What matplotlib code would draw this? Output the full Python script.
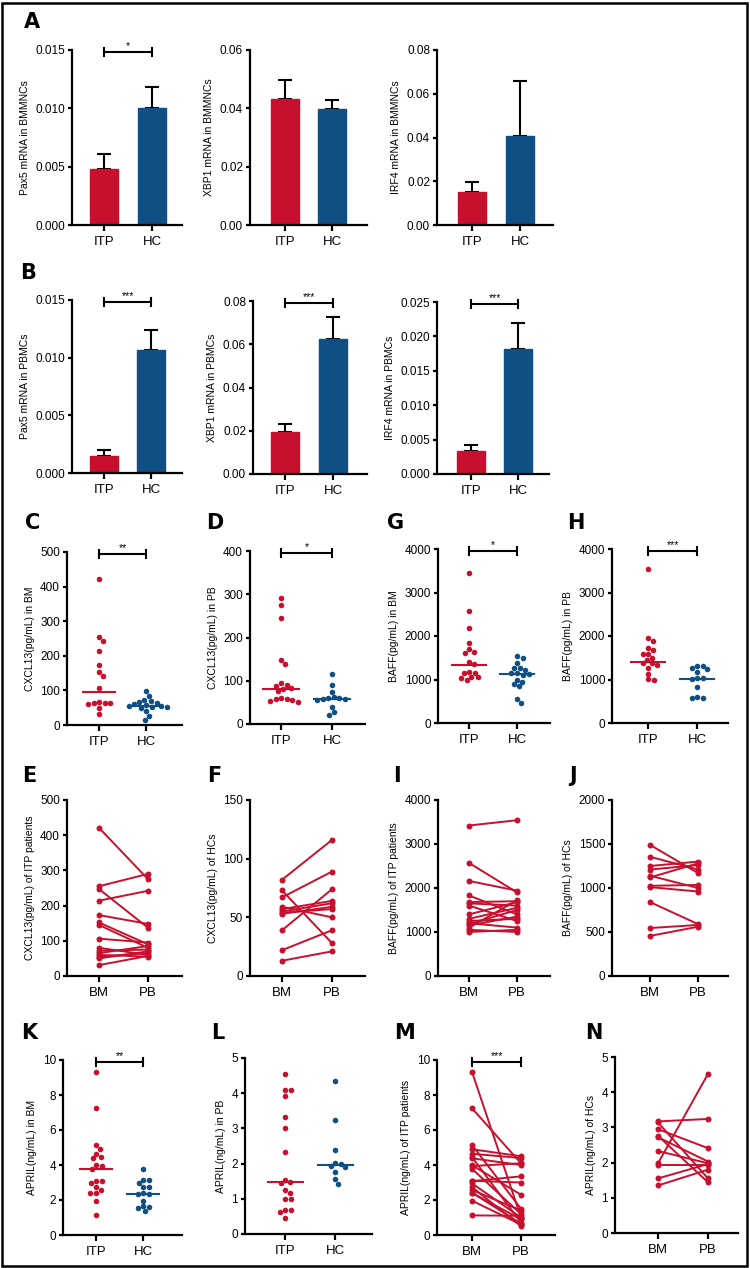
import numpy as np
import matplotlib
matplotlib.use('Agg')
import matplotlib.pyplot as plt
from matplotlib.patches import Rectangle
from matplotlib.ticker import FormatStrFormatter, MultipleLocator

# ==========================================
# Style
# ==========================================
plt.rcParams.update({
    "font.family": ["Liberation Sans", "DejaVu Sans"],
    "axes.linewidth": 1.6,
    "xtick.major.width": 1.6,
    "ytick.major.width": 1.6,
    "xtick.major.size": 4,
    "ytick.major.size": 3,
    "xtick.labelsize": 9.5,
    "ytick.labelsize": 8.5,
    "axes.spines.top": False,
    "axes.spines.right": False,
})
NARROW = ["Liberation Sans Narrow", "Liberation Sans", "DejaVu Sans"]
RED = "#C8102E"
BLUE = "#0F4F83"
W, H = 750, 1268

# ==========================================
# Data
# ==========================================
groups = ["ITP", "HC"]
sites = ["BM", "PB"]

# A / B : mRNA, mean and upper SEM
pax5_bm_mean = [0.0048, 0.0100]
pax5_bm_sem = [0.0013, 0.0018]
xbp1_bm_mean = [0.0431, 0.0397]
xbp1_bm_sem = [0.0066, 0.0032]
irf4_bm_mean = [0.0152, 0.0408]
irf4_bm_sem = [0.0046, 0.0250]
pax5_pb_mean = [0.0015, 0.0107]
pax5_pb_sem = [0.0005, 0.0017]
xbp1_pb_mean = [0.0195, 0.0626]
xbp1_pb_sem = [0.0038, 0.0100]
irf4_pb_mean = [0.0034, 0.0181]
irf4_pb_sem = [0.0008, 0.0038]

# C / D : CXCL13 (pg/mL)
cxcl13_bm_itp = [422, 255, 243, 214, 173, 153, 142, 107, 66, 64, 64, 63, 62, 50, 33]
cxcl13_bm_hc = [97, 83, 73, 69, 66, 64, 60, 57, 55, 54, 53, 52, 50, 40, 26, 14]
cxcl13_bm_med = [94, 56]
cxcl13_pb_itp = [292, 276, 244, 148, 138, 94, 91, 88, 84, 82, 76, 60, 58, 57, 56, 54, 52]
cxcl13_pb_hc = [116, 90, 74, 62, 60, 59, 58, 57, 56, 39, 27, 20]
cxcl13_pb_med = [82, 58]

# G / H : BAFF (pg/mL)
baff_bm_itp = [3441, 2582, 2176, 1847, 1701, 1640, 1617, 1410, 1360, 1180, 1157, 1142,
               1065, 1050, 1040, 989]
baff_bm_hc = [1540, 1500, 1370, 1260, 1255, 1220, 1160, 1140, 1120, 1100, 1000, 950,
              900, 850, 550, 460]
baff_bm_med = [1340, 1120]
baff_pb_itp = [3540, 1947, 1885, 1731, 1678, 1590, 1580, 1500, 1448, 1372, 1370, 1333,
               1257, 1126, 1004, 1000]
baff_pb_hc = [1318, 1310, 1257, 1250, 1180, 1042, 1026, 1004, 835, 607, 583, 568]
baff_pb_med = [1400, 1020]

# E / F / I / J : paired BM vs PB
cxcl13_itp_bm = [421, 255, 247, 214, 173, 152, 145, 106, 80, 72, 65, 60, 55, 50, 31]
cxcl13_itp_pb = [275, 290, 137, 242, 148, 90, 80, 95, 60, 75, 85, 55, 65, 70, 57]
cxcl13_hc_bm = [82, 73, 67, 59, 57, 55, 54, 53, 39, 22, 13]
cxcl13_hc_pb = [116, 28, 89, 50, 64, 62, 57, 59, 74, 39, 21]
baff_itp_bm = [3420, 2570, 2160, 1830, 1680, 1650, 1600, 1400, 1300, 1250, 1200, 1180,
               1150, 1100, 1050, 1000]
baff_itp_pb = [3540, 1900, 1940, 1400, 1700, 1600, 1250, 1680, 1550, 1300, 1100, 1500,
               1350, 1720, 1000, 1050]
baff_hc_bm = [1490, 1355, 1250, 1210, 1140, 1120, 1025, 1010, 840, 545, 455]
baff_hc_pb = [1170, 1210, 1300, 1260, 1000, 1280, 1035, 960, 590, 580, 560]

# K / L : APRIL (ng/mL)
april_bm_itp = [9.32, 7.24, 5.14, 4.90, 4.64, 4.45, 4.38, 3.99, 3.94, 3.78, 3.10, 3.08,
                2.95, 2.74, 2.57, 2.42, 2.40, 1.96, 1.12]
april_bm_hc = [3.77, 3.15, 3.12, 2.95, 2.74, 2.72, 2.38, 2.35, 2.32, 1.96, 1.64, 1.58,
               1.54, 1.35]
april_bm_med = [3.78, 2.34]
april_pb_itp = [4.54, 4.09, 4.09, 3.92, 3.33, 3.00, 2.32, 1.53, 1.47, 1.44, 1.25, 1.17,
                0.99, 0.99, 0.68, 0.68, 0.63, 0.46]
april_pb_hc = [4.36, 3.24, 2.39, 2.01, 2.00, 1.93, 1.90, 1.76, 1.55, 1.42]
april_pb_med = [1.47, 1.97]

# M / N : paired APRIL
april_itp_bm = [9.32, 7.24, 5.14, 4.90, 4.64, 4.45, 4.38, 3.99, 3.94, 3.78, 3.10, 3.08,
                2.95, 2.74, 2.57, 2.42, 2.40, 1.96, 1.12]
april_itp_pb = [1.00, 4.10, 1.50, 4.50, 4.40, 0.70, 4.00, 2.30, 4.10, 1.20, 3.00, 3.35,
                1.00, 0.50, 1.40, 0.65, 0.90, 0.60, 1.10]
april_hc_bm = [3.17, 3.14, 2.95, 2.76, 2.72, 2.33, 1.98, 1.92, 1.55, 1.35]
april_hc_pb = [3.24, 1.55, 2.41, 1.44, 2.03, 1.98, 4.52, 1.92, 1.96, 1.80]

# ==========================================
# Helpers
# ==========================================
fig = plt.figure(figsize=(W / 100, H / 100), dpi=100)


def new_ax(box, cx, ymax, step, fmt, ylabel, xlabels):
    """box = (left, top, right, bottom) in px; cx = px of category 0 and 1."""
    l, t, r, b = box
    ax = fig.add_axes([l / W, 1 - b / H, (r - l) / W, (b - t) / H])
    sp = cx[1] - cx[0]
    ax.set_xlim((l - cx[0]) / sp, (r - cx[0]) / sp)
    ax.set_ylim(0, ymax)
    ax.yaxis.set_major_locator(MultipleLocator(step))
    ax.yaxis.set_major_formatter(FormatStrFormatter(fmt))
    ax.set_xticks([0, 1])
    ax.set_xticklabels(xlabels)
    ax.tick_params(axis="x", pad=4)
    ax.tick_params(axis="y", pad=2)
    ax.set_ylabel(ylabel, family=NARROW, fontsize=7.5, labelpad=4)
    ax._ppx = sp
    ax._ppy = (b - t) / ymax
    return ax


def bracket(ax, stars):
    ymax = ax.get_ylim()[1]
    yb = ymax * 0.99
    dy = 4 / ax._ppy
    kw = dict(color="black", lw=1.5, clip_on=False)
    ax.plot([0, 1], [yb, yb], **kw)
    ax.plot([0, 0], [yb - dy, yb + dy], **kw)
    ax.plot([1, 1], [yb - dy, yb + dy], **kw)
    ax.text(0.5, yb + 1 / ax._ppy, stars, ha="center", va="bottom", fontsize=7.5)


def bars(ax, means, sems):
    for i, (m, s) in enumerate(zip(means, sems)):
        c = RED if i == 0 else BLUE
        ax.errorbar(i, m, yerr=[[0], [s]], color="black", lw=1.5, capsize=5,
                    capthick=1.5, zorder=1)
        ax.bar(i, m, width=0.6, color=c, edgecolor=c, zorder=2)


def swarm(vals, ppx, ppy, d=5.3):
    vals = np.asarray(vals, float)
    order = np.argsort(-vals)
    steps = np.arange(1, 80) * 0.5
    cands = np.concatenate([[0.0], np.column_stack([steps, -steps]).ravel()])
    placed = []
    offs = np.zeros(len(vals))
    for i in order:
        y = vals[i] * ppy
        for c in cands:
            if all((c - px) ** 2 + (y - py) ** 2 >= d * d for px, py in placed):
                break
        placed.append((c, y))
        offs[i] = c / ppx
    return offs


def dots(ax, series, medians):
    for i, (v, med) in enumerate(zip(series, medians)):
        c = RED if i == 0 else BLUE
        x = i + swarm(v, ax._ppx, ax._ppy)
        ax.scatter(x, v, s=16, color=c, linewidths=0, zorder=3, clip_on=False)
        ax.plot([i - 0.35, i + 0.35], [med, med], color=c, lw=1.5, zorder=4)


def paired(ax, bm, pb):
    for a, b in zip(bm, pb):
        ax.plot([0, 1], [a, b], color=RED, lw=1.4, marker="o", ms=4.3,
                mec=RED, mew=0, clip_on=False)


def letter(x, y, s):
    fig.text(x / W, 1 - y / H, s, ha="center", va="center", fontsize=15,
             fontweight="bold", family="DejaVu Sans")


# ==========================================
# Row A
# ==========================================
ax = new_ax((72, 50, 182, 225), (104, 152), 0.015, 0.005, "%.3f", "Pax5 mRNA in BMMNCs", groups)
bars(ax, pax5_bm_mean, pax5_bm_sem)
bracket(ax, "*")
ax = new_ax((250, 50, 367, 225), (285, 332), 0.06, 0.02, "%.2f", "XBP1 mRNA in BMMNCs", groups)
bars(ax, xbp1_bm_mean, xbp1_bm_sem)
ax = new_ax((437, 50, 553, 225), (472, 520), 0.08, 0.02, "%.2f", "IRF4 mRNA in BMMNCs", groups)
bars(ax, irf4_bm_mean, irf4_bm_sem)

# Row B
ax = new_ax((72, 300, 182, 473), (104, 151), 0.015, 0.005, "%.3f", "Pax5 mRNA in PBMCs", groups)
bars(ax, pax5_pb_mean, pax5_pb_sem)
bracket(ax, "***")
ax = new_ax((253, 301, 367, 474), (285, 333), 0.08, 0.02, "%.2f", "XBP1 mRNA in PBMCs", groups)
bars(ax, xbp1_pb_mean, xbp1_pb_sem)
bracket(ax, "***")
ax = new_ax((437, 302, 549, 474), (471, 518), 0.025, 0.005, "%.3f", "IRF4 mRNA in PBMCs", groups)
bars(ax, irf4_pb_mean, irf4_pb_sem)
bracket(ax, "***")

# Row C D G H
ax = new_ax((67, 552, 182, 725), (99, 146), 500, 100, "%d", "CXCL13(pg/mL) in BM", groups)
dots(ax, [cxcl13_bm_itp, cxcl13_bm_hc], cxcl13_bm_med)
bracket(ax, "**")
ax = new_ax((250, 551, 365, 724), (281, 332), 400, 100, "%d", "CXCL13(pg/mL) in PB", groups)
dots(ax, [cxcl13_pb_itp, cxcl13_pb_hc], cxcl13_pb_med)
bracket(ax, "*")
ax = new_ax((438, 549, 550, 723), (469, 517), 4000, 1000, "%d", "BAFF(pg/mL) in BM", groups)
dots(ax, [baff_bm_itp, baff_bm_hc], baff_bm_med)
bracket(ax, "*")
ax = new_ax((612, 549, 728, 723), (648, 697), 4000, 1000, "%d", "BAFF(pg/mL) in PB", groups)
dots(ax, [baff_pb_itp, baff_pb_hc], baff_pb_med)
bracket(ax, "***")

# Row E F I J
ax = new_ax((67, 800, 182, 976), (99, 148), 500, 100, "%d", "CXCL13(pg/mL) of ITP patients", sites)
paired(ax, cxcl13_itp_bm, cxcl13_itp_pb)
ax = new_ax((250, 800, 365, 976), (282, 332), 150, 50, "%d", "CXCL13(pg/mL) of HCs", sites)
paired(ax, cxcl13_hc_bm, cxcl13_hc_pb)
ax = new_ax((438, 800, 550, 976), (469, 517), 4000, 1000, "%d", "BAFF(pg/mL) of ITP patients", sites)
paired(ax, baff_itp_bm, baff_itp_pb)
ax = new_ax((612, 800, 728, 976), (650, 698), 2000, 500, "%d", "BAFF(pg/mL) of HCs", sites)
paired(ax, baff_hc_bm, baff_hc_pb)

# Row K L M N
ax = new_ax((63, 1060, 182, 1235), (96, 143), 10, 2, "%d", "APRIL(ng/mL) in BM", groups)
dots(ax, [april_bm_itp, april_bm_hc], april_bm_med)
bracket(ax, "**")
ax = new_ax((245, 1058, 372, 1234), (285, 335), 5, 1, "%d", "APRIL(ng/mL) in PB", groups)
dots(ax, [april_pb_itp, april_pb_hc], april_pb_med)
ax = new_ax((437, 1060, 555, 1235), (472, 521), 10, 2, "%d", "APRIL(ng/mL) of ITP patients", sites)
paired(ax, april_itp_bm, april_itp_pb)
bracket(ax, "***")
ax = new_ax((615, 1057, 738, 1233), (658, 708), 5, 1, "%d", "APRIL(ng/mL) of HCs", sites)
paired(ax, april_hc_bm, april_hc_pb)

# Panel letters
for (x, y, s) in [(32, 22, "A"), (28, 273, "B"),
                  (33, 523, "C"), (215, 523, "D"), (396, 523, "G"), (576, 523, "H"),
                  (29, 776, "E"), (214, 776, "F"), (397, 776, "I"), (573, 776, "J"),
                  (29, 1033, "K"), (218, 1033, "L"), (405, 1033, "M"), (594, 1033, "N")]:
    letter(x, y, s)

# Outer frame
fig.add_artist(Rectangle((1.5 / W, 2.5 / H), 745 / W, 1263 / H, transform=fig.transFigure,
                         fill=False, lw=1.8, ec="black"))

fig.savefig("out.png", dpi=100)
